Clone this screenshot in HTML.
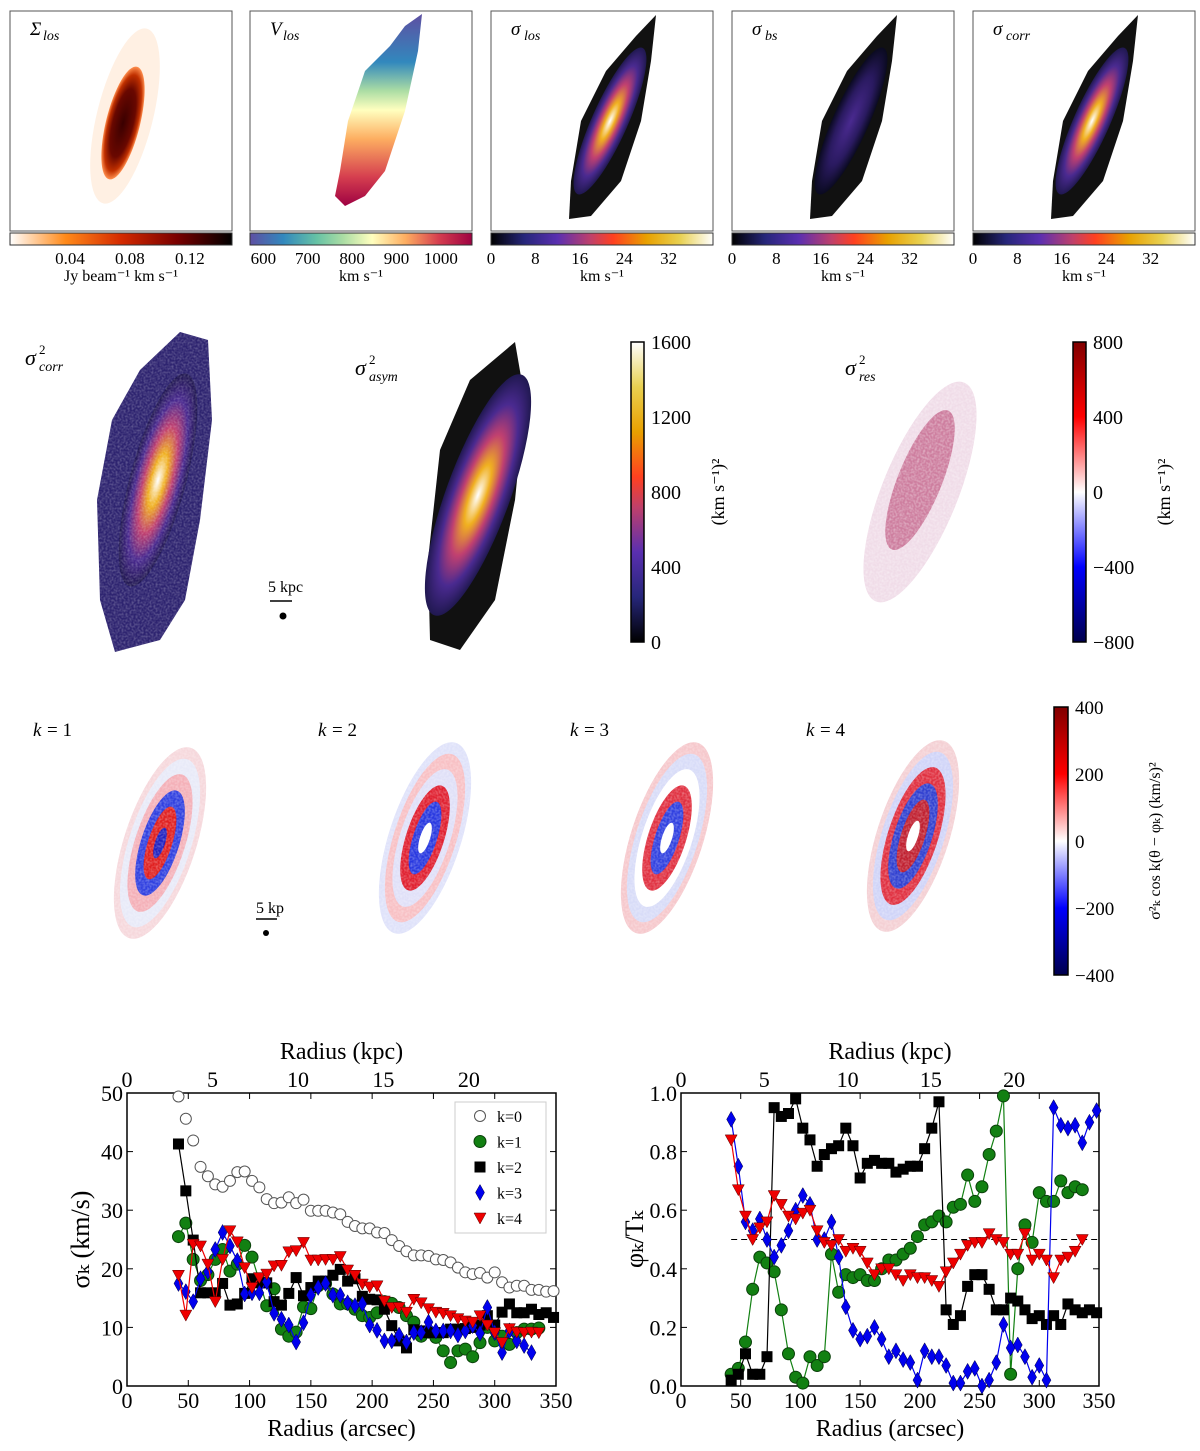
<!DOCTYPE html>
<html><head><meta charset="utf-8"><style>
body{margin:0;background:#fff}
svg{display:block;font-family:"Liberation Serif","DejaVu Serif",serif}
</style></head><body>
<svg id="fig" width="1200" height="1451" viewBox="0 0 1200 1451" xmlns="http://www.w3.org/2000/svg">
<defs>
<linearGradient id="gHot" x1="0" x2="1"><stop offset="0" stop-color="#fff"/><stop offset="0.25" stop-color="#ff8a1a"/><stop offset="0.5" stop-color="#d42a00"/><stop offset="0.75" stop-color="#7a0000"/><stop offset="1" stop-color="#000"/></linearGradient>
<linearGradient id="gSpec" x1="0" x2="1"><stop offset="0" stop-color="#5e4fa2"/><stop offset="0.15" stop-color="#3288bd"/><stop offset="0.3" stop-color="#66c2a5"/><stop offset="0.42" stop-color="#abdda4"/><stop offset="0.55" stop-color="#ffffbf"/><stop offset="0.7" stop-color="#fdae61"/><stop offset="0.85" stop-color="#d53e4f"/><stop offset="1" stop-color="#9e0142"/></linearGradient>
<linearGradient id="gCmr" x1="0" x2="1"><stop offset="0" stop-color="#000"/><stop offset="0.15" stop-color="#26267a"/><stop offset="0.3" stop-color="#5a2fb0"/><stop offset="0.45" stop-color="#c0406a"/><stop offset="0.55" stop-color="#ff4020"/><stop offset="0.7" stop-color="#e8a000"/><stop offset="0.85" stop-color="#e8d050"/><stop offset="1" stop-color="#fff"/></linearGradient>
<linearGradient id="gCmrV" x1="0" y1="1" x2="0" y2="0"><stop offset="0" stop-color="#000"/><stop offset="0.15" stop-color="#26267a"/><stop offset="0.3" stop-color="#5a2fb0"/><stop offset="0.45" stop-color="#c0406a"/><stop offset="0.55" stop-color="#ff4020"/><stop offset="0.7" stop-color="#e8a000"/><stop offset="0.85" stop-color="#e8d050"/><stop offset="1" stop-color="#fff"/></linearGradient>
<linearGradient id="gSeisV" x1="0" y1="1" x2="0" y2="0"><stop offset="0" stop-color="#00004c"/><stop offset="0.25" stop-color="#0000ff"/><stop offset="0.5" stop-color="#fff"/><stop offset="0.75" stop-color="#ff0000"/><stop offset="1" stop-color="#800000"/></linearGradient>
<linearGradient id="gVel" x1="0" y1="0" x2="0" y2="1"><stop offset="0" stop-color="#5e4fa2"/><stop offset="0.25" stop-color="#3288bd"/><stop offset="0.4" stop-color="#abdda4"/><stop offset="0.5" stop-color="#ffffbf"/><stop offset="0.65" stop-color="#fdae61"/><stop offset="0.85" stop-color="#d53e4f"/><stop offset="1" stop-color="#9e0142"/></linearGradient>
<radialGradient id="rHot"><stop offset="0" stop-color="#3a0000"/><stop offset="0.6" stop-color="#6a0800"/><stop offset="0.85" stop-color="#c03000"/><stop offset="1" stop-color="#ff9050"/></radialGradient>
<radialGradient id="rCmr"><stop offset="0" stop-color="#fff"/><stop offset="0.25" stop-color="#f0b020"/><stop offset="0.5" stop-color="#c04070"/><stop offset="0.75" stop-color="#4a2a90"/><stop offset="1" stop-color="#201850"/></radialGradient>
<radialGradient id="rBs"><stop offset="0" stop-color="#4a2a90"/><stop offset="0.6" stop-color="#2a1a60"/><stop offset="1" stop-color="#0a0a20"/></radialGradient>
<filter id="noise"><feTurbulence type="fractalNoise" baseFrequency="0.5" numOctaves="1" seed="3"/><feColorMatrix values="0 0 0 0 1  0 0 0 0 1  0 0 0 0 1  0 0 0 -1.4 0.9"/><feComposite in2="SourceGraphic" operator="in"/></filter>
</defs>
<g id="topRow"></g><g id="midRow"></g><g id="krow"></g>
<g id="chartL"></g>
<g id="chartR"></g>
</svg>
<script>
// ---- chart data (radius in arcsec; start 42, step 6) ----
const radiusStart = 42, radiusStep = 6;
const sig_k0 = [49.4,45.6,41.9,37.4,35.8,34.4,34,35,36.5,36.6,35,33.9,31.9,31.2,31.3,32.2,31.2,31.8,29.9,29.9,29.9,29.6,29.3,28,27.3,26.9,26.9,26.2,26.1,24.9,23.9,23,22.3,22.3,22.2,21.6,21.5,21.1,20.2,19.4,19.1,19.3,18.5,19.4,17.7,16.8,17.1,17.1,16.4,16.4,16.1,16.2];
const sig_k1 = [25.5,27.8,21.6,18,19,21.6,23.3,19.6,20.8,24,22,17.9,13.7,16.6,9.7,8.5,9.2,13.5,13.2,17.1,17.5,15.7,14,14,13.1,12,11.7,12.5,14.4,14.1,13.4,12,10.9,8.5,9.2,8.3,6,4,6,6.3,5,7.4,10,7.7,8.5,7.1,9.1,9.7,9.7,9.9];
const sig_k2 = [41.3,33.3,24.9,15.9,15.9,15.9,17.5,13.8,14,15.8,18.3,17.6,17.6,14.4,13.8,15.8,18.5,15.4,16.8,17.9,17.9,18.9,19.9,17.9,18.3,15.3,14.8,14.7,13.1,10.3,7.7,6.5,9.6,9.4,9.1,9.1,9.1,9.7,9.7,9.8,10,10.4,12,10.4,12.6,14,12.5,12.5,13.1,12.2,12.5,11.7];
const sig_k3 = [17.5,16.1,14.4,18.3,19.5,23.3,26.2,23.9,21.4,15.7,15.9,15.9,17.8,12.4,11.4,10.4,7.5,10.8,15.5,16.8,17.5,15.5,15.5,14.2,13.7,14,10.4,9.5,7.7,7.7,8.7,7.5,9.1,9.1,10.9,9.4,9.4,9.4,8.7,9.4,10.3,9,13.4,9.1,5.7,9.4,7.7,6.9,5.7];
const sig_k4 = [18.9,12.1,24.2,23.9,20.8,14.4,21.6,26.5,24.6,20.2,16.8,18.5,19.1,20.5,20.6,22.9,23.1,24.5,21.5,21.5,21.6,21.6,22.1,19.8,18.9,17.4,16.9,17.1,14.5,13.4,13.4,12.6,14.8,14.2,13.2,12.6,12.4,12,11.5,11.1,10.9,12,10.4,9.1,7.4,9.8,9.2,9.1,9.2,9.1];
const phi_k1 = [0.04,0.06,0.15,0.33,0.44,0.42,0.39,0.26,0.11,0.03,0.01,0.1,0.07,0.1,0.45,0.32,0.38,0.37,0.38,0.36,0.36,0.40,0.43,0.43,0.45,0.47,0.51,0.55,0.56,0.58,0.56,0.61,0.62,0.72,0.63,0.68,0.79,0.87,0.99,0.04,0.4,0.55,0.49,0.66,0.63,0.63,0.70,0.66,0.68,0.67];
const phi_k2 = [0.02,0.04,0.11,0.04,0.04,0.1,0.95,0.92,0.93,0.98,0.88,0.84,0.75,0.79,0.81,0.82,0.88,0.82,0.71,0.76,0.77,0.76,0.76,0.73,0.74,0.75,0.75,0.81,0.88,0.97,0.26,0.21,0.24,0.34,0.38,0.38,0.33,0.26,0.26,0.3,0.29,0.26,0.23,0.24,0.21,0.24,0.21,0.28,0.26,0.25,0.26,0.25];
const phi_k3 = [0.91,0.75,0.56,0.53,0.57,0.5,0.44,0.48,0.53,0.6,0.65,0.62,0.5,0.5,0.56,0.44,0.27,0.19,0.16,0.17,0.2,0.16,0.1,0.12,0.09,0.08,0.02,0.12,0.1,0.1,0.07,0.01,0.01,0.05,0.06,0,0.02,0.08,0.21,0.13,0.14,0.1,0.03,0.07,0.02,0.95,0.89,0.88,0.89,0.83,0.9,0.94];
const phi_k4 = [0.84,0.67,0.58,0.5,0.54,0.56,0.65,0.62,0.58,0.57,0.59,0.6,0.53,0.49,0.48,0.5,0.46,0.47,0.46,0.42,0.38,0.40,0.40,0.38,0.36,0.38,0.37,0.37,0.36,0.34,0.39,0.42,0.45,0.48,0.49,0.49,0.52,0.5,0.49,0.45,0.45,0.52,0.43,0.45,0.43,0.37,0.43,0.44,0.46,0.5];
const xTicks = [0,50,100,150,200,250,300,350];
const kpcTicks = [0,5,10,15,20];
const sigTicks = [0,10,20,30,40,50];
const phiTicks = [0,0.2,0.4,0.6,0.8,1.0];
const legendLabels = ["k=0","k=1","k=2","k=3","k=4"];

const NS="http://www.w3.org/2000/svg";
function E(parent,tag,attrs,text){const e=document.createElementNS(NS,tag);for(const k in attrs)e.setAttribute(k,attrs[k]);if(text!==undefined)e.textContent=text;parent.appendChild(e);return e;}

// ---------- top row ----------
const topRow=document.getElementById('topRow');
const panels=[
 {x:10,lab:"Σ",sub:"los",grad:"gHot",ticks:["0.04","0.08","0.12"],tp:[0.27,0.54,0.81],unit:"Jy beam⁻¹ km s⁻¹"},
 {x:250,lab:"V",sub:"los",grad:"gSpec",ticks:["600","700","800","900","1000"],tp:[0.06,0.26,0.46,0.66,0.86],unit:"km s⁻¹"},
 {x:491,lab:"σ",sub:"los",grad:"gCmr",ticks:["0","8","16","24","32"],tp:[0,0.2,0.4,0.6,0.8],unit:"km s⁻¹"},
 {x:732,lab:"σ",sub:"bs",grad:"gCmr",ticks:["0","8","16","24","32"],tp:[0,0.2,0.4,0.6,0.8],unit:"km s⁻¹"},
 {x:973,lab:"σ",sub:"corr",grad:"gCmr",ticks:["0","8","16","24","32"],tp:[0,0.2,0.4,0.6,0.8],unit:"km s⁻¹"}];
panels.forEach((p,i)=>{
 const g=E(topRow,'g',{});
 
 
 const W=222,H=220,y=11;
 E(g,'rect',{x:p.x,y:y,width:W,height:H,fill:'#fff',stroke:'#555','stroke-width':1});
 const cx=p.x+111, cy=y+110;
 if(i===0){
  E(g,'ellipse',{cx:cx+4,cy:cy-5,rx:28,ry:90,transform:`rotate(14 ${cx+4} ${cy-5})`,fill:'#ffe6d0',opacity:0.6});
  E(g,'ellipse',{cx:cx+2,cy:cy+2,rx:17,ry:58,transform:`rotate(14 ${cx+2} ${cy+2})`,fill:'url(#rHot)'});
 } else if(i===1){
  E(g,'path',{d:`M${p.x+172},${y+3} L${p.x+168},${y+40} L${p.x+155},${y+100} L${p.x+135},${y+160} L${p.x+115},${y+185} L${p.x+95},${y+195} L${p.x+85},${y+185} L${p.x+90},${y+160} L${p.x+98},${y+110} L${p.x+115},${y+60} L${p.x+140},${y+35} L${p.x+155},${y+15} Z`,fill:'url(#gVel)'});
 } else {
  const fill=i===3?'url(#rBs)':'url(#rCmr)';
  E(g,'path',{d:`M${p.x+165},${y+4} L${p.x+160},${y+50} L${p.x+150},${y+110} L${p.x+130},${y+170} L${p.x+100},${y+205} L${p.x+78},${y+208} L${p.x+80},${y+170} L${p.x+90},${y+110} L${p.x+115},${y+60} L${p.x+145},${y+25} Z`,fill:'#111'});
  E(g,'ellipse',{cx:cx+8,cy:cy,rx:18,ry:80,transform:`rotate(24 ${cx+8} ${cy})`,fill:fill});
 }
 E(g,'text',{x:p.x+20,y:y+24,'font-size':19,'font-style':'italic'},p.lab);
 E(g,'text',{x:p.x+33,y:y+29,'font-size':14,'font-style':'italic'},p.sub);
 E(g,'rect',{x:p.x,y:233,width:W,height:12,fill:`url(#${p.grad})`,stroke:'#333','stroke-width':1});
 p.ticks.forEach((t,j)=>{E(g,'text',{x:p.x+p.tp[j]*W,y:264,'font-size':17,'text-anchor':'middle'},t);});
 E(g,'text',{x:p.x+111,y:281,'font-size':16,'text-anchor':'middle'},p.unit);
});

// ---------- middle row ----------
const midRow=document.getElementById('midRow');
const g2=E(midRow,'g',{});


const corrPath="M180,332 L208,340 L212,420 L200,520 L185,600 L160,640 L115,652 L100,600 L97,500 L112,420 L140,370 Z";
E(g2,'path',{d:corrPath,fill:'#2e2470'});
E(g2,'ellipse',{cx:158,cy:480,rx:28,ry:110,transform:'rotate(15 158 480)',fill:'url(#rCmr)'});
E(g2,'path',{d:corrPath,fill:'#fff',filter:'url(#noise)',opacity:0.35});
E(g2,'text',{x:25,y:365,'font-size':22,'font-style':'italic'},"σ");
E(g2,'text',{x:39,y:354,'font-size':13},"2");
E(g2,'text',{x:39,y:371,'font-size':14,'font-style':'italic'},"corr");
const g3=E(midRow,'g',{});


E(g3,'path',{d:"M515,342 L525,400 L515,500 L495,600 L460,650 L430,640 L428,560 L440,450 L470,380 Z",fill:'#111'});
E(g3,'ellipse',{cx:478,cy:495,rx:32,ry:128,transform:'rotate(20 478 495)',fill:'url(#rCmr)'});
E(g3,'text',{x:355,y:375,'font-size':22,'font-style':'italic'},"σ");
E(g3,'text',{x:369,y:364,'font-size':13},"2");
E(g3,'text',{x:369,y:381,'font-size':14,'font-style':'italic'},"asym");
const g4=E(midRow,'g',{});


E(g4,'ellipse',{cx:920,cy:492,rx:38,ry:118,transform:'rotate(22 920 492)',fill:'#f0dce8'});
E(g4,'ellipse',{cx:920,cy:480,rx:22,ry:75,transform:'rotate(22 920 480)',fill:'#b03060',opacity:0.55});
E(g4,'ellipse',{cx:920,cy:492,rx:38,ry:118,transform:'rotate(22 920 492)',fill:'#fff',filter:'url(#noise)',opacity:0.6});
E(g4,'text',{x:845,y:375,'font-size':22,'font-style':'italic'},"σ");
E(g4,'text',{x:859,y:364,'font-size':13},"2");
E(g4,'text',{x:859,y:381,'font-size':14,'font-style':'italic'},"res");
const sb=E(midRow,'g',{});


E(sb,'text',{x:268,y:592,'font-size':16},"5 kpc");
E(sb,'line',{x1:270,y1:601,x2:292,y2:601,stroke:'#000','stroke-width':1.5});
E(sb,'circle',{cx:283,cy:616,r:3.5,fill:'#000'});
function vbar(parent,x,y0,y1,grad,ticks,lab,labx,name){
 const g=E(parent,'g',{});
 
 
 E(g,'rect',{x:x,y:y0,width:13,height:y1-y0,fill:`url(#${grad})`,stroke:'#000','stroke-width':1.5});
 ticks.forEach((t,j)=>{const yy=y1-(y1-y0)*j/(ticks.length-1);E(g,'text',{x:x+20,y:yy+7,'font-size':20},t);});
 E(g,'text',{x:0,y:0,'font-size':18,'text-anchor':'middle',transform:`translate(${labx},${(y0+y1)/2}) rotate(-90)`},lab);
}
vbar(midRow,631,342,642,'gCmrV',["0","400","800","1200","1600"],"(km s⁻¹)²",724,'colorbar-corr');
vbar(midRow,1073,342,642,'gSeisV',["−800","−400","0","400","800"],"(km s⁻¹)²",1170,'colorbar-res');

// ---------- k row ----------
const kr=document.getElementById('krow');
const kc=[[160,843],[425,838],[667,838],[913,836]];
const kx=[33,318,570,806];
kc.forEach((c,i)=>{
 const g=E(kr,'g',{});
 
 
 const cx=c[0], cy=c[1];
 const tr=`rotate(18 ${cx} ${cy})`;
 const rings=i===0?['#f6d8dc','#e8eaf8','#f4b0b8','#3040e0','#e02020','#2020c0']:
   i===1?['#dfe2fa','#f8c0c4','#e0e0f8','#e02030','#2838e0','#fff']:
   i===2?['#f6c8cc','#d8dcf8','#fff','#e03040','#3040e0','#fff']:
   ['#f4d0d4','#d0d4f8','#e03040','#3040d0','#c02030','#fff'];
 const rr=[[36,100],[31,88],[25,72],[19,55],[12,38],[5,16]];
 rr.forEach((r,j)=>E(g,'ellipse',{cx:cx,cy:cy,rx:r[0],ry:r[1],transform:tr,fill:rings[j]}));
 E(g,'ellipse',{cx:cx,cy:cy,rx:36,ry:100,transform:tr,fill:'#fff',filter:'url(#noise)',opacity:0.5});
 E(g,'text',{x:kx[i],y:736,'font-size':19,'font-style':'italic'},"k");
 E(g,'text',{x:kx[i]+14,y:736,'font-size':19},"= "+(i+1));
});
const sb2=E(kr,'g',{});


E(sb2,'text',{x:256,y:913,'font-size':16},"5 kp");
E(sb2,'line',{x1:256,y1:919,x2:277,y2:919,stroke:'#000','stroke-width':1.5});
E(sb2,'circle',{cx:266,cy:933,r:3,fill:'#000'});
const cb3=E(kr,'g',{});


E(cb3,'rect',{x:1054,y:707,width:14,height:268,fill:'url(#gSeisV)',stroke:'#000','stroke-width':1.5});
["−400","−200","0","200","400"].forEach((t,j)=>{const yy=975-268*j/4;E(cb3,'text',{x:1075,y:yy+7,'font-size':19},t);});
E(cb3,'text',{x:0,y:0,'font-size':16,'text-anchor':'middle',transform:'translate(1160,841) rotate(-90)'},"σ²ₖ cos k(θ − φₖ) (km/s)²");

// ---------- bottom charts ----------
function marker(g,m,x,y){
 if(m==='o')E(g,'circle',{cx:x,cy:y,r:5.5,fill:'#fff',stroke:'#555'});
 else if(m==='g')E(g,'circle',{cx:x,cy:y,r:6,fill:'#128012',stroke:'#0a400a'});
 else if(m==='s')E(g,'rect',{x:x-5.5,y:y-5.5,width:11,height:11,fill:'#000'});
 else if(m==='d')E(g,'polygon',{points:`${x},${y-8} ${x+4.5},${y} ${x},${y+8} ${x-4.5},${y}`,fill:'#0000ee',stroke:'#000040','stroke-width':0.5});
 else if(m==='v')E(g,'polygon',{points:`${x-6},${y-5} ${x+6},${y-5} ${x},${y+6}`,fill:'#ee0000',stroke:'#500','stroke-width':0.5});
}
function chart(gid,X0,X1,Y0,Y1,ymax,yT,yFmt,series,yLabel,extra){
 const g=document.getElementById(gid);
 const sx=v=>X0+(X1-X0)*v/350, sy=v=>Y1-(Y1-Y0)*v/ymax;
 E(g,'rect',{x:X0,y:Y0,width:X1-X0,height:Y1-Y0,fill:'none',stroke:'#000','stroke-width':1.5});
 xTicks.forEach(t=>{const x=sx(t);E(g,'line',{x1:x,y1:Y1,x2:x,y2:Y1-6,stroke:'#000'});E(g,'line',{x1:x,y1:Y0,x2:x,y2:Y0+6,stroke:'#000'});
  const tl=E(g,'text',{x:x,y:Y1+22,'font-size':22,'text-anchor':'middle'},String(t));
  
  });
 kpcTicks.forEach(t=>{const x=sx(t/0.0717);E(g,'text',{x:x,y:Y0-6,'font-size':22,'text-anchor':'middle'},String(t));});
 yT.forEach(t=>{const y=sy(t);E(g,'line',{x1:X0,y1:y,x2:X0+6,y2:y,stroke:'#000'});E(g,'line',{x1:X1,y1:y,x2:X1-6,y2:y,stroke:'#000'});
  E(g,'text',{x:X0-4,y:y+8,'font-size':22,'text-anchor':'end'},yFmt(t));});
 const xl=E(g,'text',{x:(X0+X1)/2,y:Y1+50,'font-size':24,'text-anchor':'middle'},"Radius (arcsec)");
 
 
 const tl2=E(g,'text',{x:(X0+X1)/2,y:Y0-34,'font-size':24,'text-anchor':'middle'},"Radius (kpc)");
 
 
 const yl=E(g,'text',{x:0,y:0,'font-size':26,'text-anchor':'middle',transform:`translate(${X0-38},${(Y0+Y1)/2}) rotate(-90)`},yLabel);
 
 
 if(extra)extra(g,sx,sy);
 series.forEach(s=>{
  const sg=E(g,'g',{});
  
  
  const pts=s.d.map((v,i)=>[sx(radiusStart+radiusStep*i),sy(v)]);
  if(s.line)E(sg,'polyline',{points:pts.map(p=>p.join(',')).join(' '),fill:'none',stroke:s.line,'stroke-width':1.2});
  pts.forEach(p=>marker(sg,s.m,p[0],p[1]));
 });
}
chart('chartL',127,556,1093,1386,50,sigTicks,t=>String(t),[
 {name:'k0',d:sig_k0,m:'o'},
 {name:'k1',d:sig_k1,m:'g',line:'#128012'},
 {name:'k2',d:sig_k2,m:'s',line:'#000'},
 {name:'k3',d:sig_k3,m:'d',line:'#0000ee'},
 {name:'k4',d:sig_k4,m:'v',line:'#ee0000'}],"σₖ (km/s)",(g,sx,sy)=>{
  const lg=E(g,'g',{});
  
  
  E(lg,'rect',{x:455,y:1102,width:91,height:131,fill:'#fff',stroke:'#ccc'});
  const ms=['o','g','s','d','v'];
  legendLabels.forEach((l,i)=>{const y=1116+i*25.5;marker(lg,ms[i],480,y);E(lg,'text',{x:497,y:y+6,'font-size':16},l);});
 });
chart('chartR',681,1099,1093,1386,1,phiTicks,t=>t.toFixed(1),[
 {name:'k1',d:phi_k1,m:'g',line:'#128012'},
 {name:'k2',d:phi_k2,m:'s',line:'#000'},
 {name:'k3',d:phi_k3,m:'d',line:'#0000ee'},
 {name:'k4',d:phi_k4,m:'v',line:'#ee0000'}],"φₖ/Tₖ",(g,sx,sy)=>{
  E(g,'line',{x1:sx(42),y1:sy(0.5),x2:1099,y2:sy(0.5),stroke:'#000','stroke-dasharray':'6,4'});
 });
</script>
</body></html>
